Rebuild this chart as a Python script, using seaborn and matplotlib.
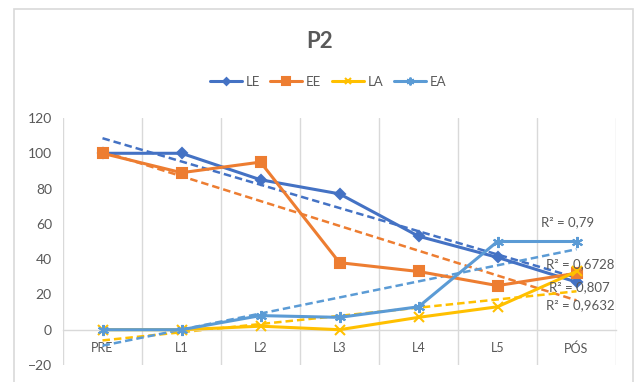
import numpy as np
import pandas as pd
import matplotlib
matplotlib.use("Agg")
import matplotlib.pyplot as plt
from matplotlib.patches import Rectangle
import seaborn as sns

categories = ["PRE", "L1", "L2", "L3", "L4", "L5", "PÓS"]
le = [100, 100, 85, 77, 53, 41, 27]
ee = [100, 89, 95, 38, 33, 25, 32]
la = [0, 0, 2, 0, 7, 13, 33]
ea = [0, 0, 8, 7, 13, 50, 50]
series_names = ["LE", "EE", "LA", "EA"]
r2_labels = ["R² = 0,79", "R² = 0,6728", "R² = 0,807", "R² = 0,9632"]
yticks = [-20, 0, 20, 40, 60, 80, 100, 120]

colors = {"LE": "#4472C4", "EE": "#ED7D31", "LA": "#FFC000", "EA": "#5B9BD5"}
markers = {"LE": "D", "EE": "s", "LA": "x", "EA": (6, 2, 0)}
msizes = {"LE": 5, "EE": 7.5, "LA": 7, "EA": 8}

sns.set_theme(style="white")
plt.rcParams["font.family"] = ["Lato", "DejaVu Sans"]

fig = plt.figure(figsize=(6.35, 3.82), dpi=100)
ax = fig.add_axes([63 / 635, 1 - 365 / 382, (616 - 63) / 635, (365 - 118) / 382])

df = pd.DataFrame({
    "x": np.tile(np.arange(len(categories)), 4),
    "y": le + ee + la + ea,
    "series": np.repeat(series_names, len(categories)),
})

# trend lines
for name in series_names:
    sub = df[df.series == name]
    sns.regplot(data=sub, x="x", y="y", ax=ax, scatter=False, ci=None,
                color=colors[name], truncate=True,
                line_kws=dict(linestyle=(0, (3, 1.6)), linewidth=1.8, zorder=2))

# data lines
for name in series_names:
    sub = df[df.series == name]
    sns.lineplot(data=sub, x="x", y="y", ax=ax, color=colors[name],
                 marker=markers[name], markersize=msizes[name],
                 markeredgecolor=colors[name], markeredgewidth=1.5,
                 linewidth=2.2, label=name, zorder=3)

ax.set_xlim(-0.5, len(categories) - 0.5)
ax.set_ylim(-20, 120)
ax.set_yticks(yticks)
ax.set_xticks(np.arange(len(categories)))
ax.set_xticklabels(categories)
ax.set_xticks(np.arange(len(categories) + 1) - 0.5, minor=True)
ax.grid(True, which="minor", axis="x", color="#D9D9D9", linewidth=1)
ax.grid(False, which="major")
ax.set_xlabel("")
ax.set_ylabel("")

for s in ["left", "right", "top"]:
    ax.spines[s].set_visible(False)
ax.spines["bottom"].set_position(("data", 0))
ax.spines["bottom"].set_color("#D9D9D9")
ax.spines["bottom"].set_linewidth(1)
ax.tick_params(axis="x", which="both", length=0, pad=9, labelsize=9, labelcolor="#595959")
ax.tick_params(axis="y", length=0, pad=8, labelsize=10, labelcolor="#595959")

# R² labels
r2_pos = [(5.55, 61), (5.62, 37), (5.65, 24), (5.62, 14)]
for (xx, yy), txt in zip(r2_pos, r2_labels):
    ax.text(xx, yy, txt, fontsize=9.5, color="#595959", ha="left", va="center", zorder=4)

if ax.legend_:
    ax.legend_.remove()
handles, labels = ax.get_legend_handles_labels()
fig.legend(handles, labels, loc="center", bbox_to_anchor=(328 / 635, 1 - 82 / 382),
           ncol=4, frameon=False, fontsize=9.5, labelcolor="#595959",
           handlelength=2.4, columnspacing=0.8, handletextpad=0.3, markerscale=0.7)

fig.text(320 / 635, 1 - 42 / 382, "P2", ha="center", va="center",
         fontsize=16, fontweight="bold", color="#595959")

fig.patches.append(Rectangle((14 / 635, -0.05), (633 - 14) / 635, 1 - 9 / 382 + 0.05,
                             transform=fig.transFigure, fill=False,
                             edgecolor="#D9D9D9", linewidth=1.2))

fig.savefig("out.png", dpi=100)
